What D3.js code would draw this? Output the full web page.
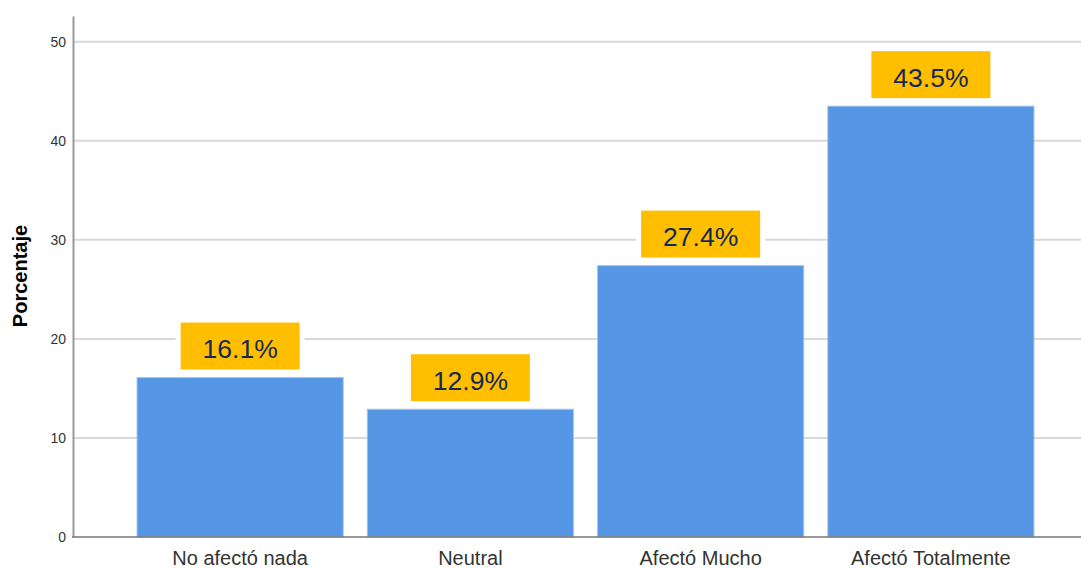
<html><head>
<meta charset="utf-8">
<title>Porcentaje por categoría</title>
<style>
  body {
    margin: 0;
    background: #ffffff;
    font-family: "Liberation Sans", Arial, sans-serif;
  }
  .grid line {
    stroke: #d9d9d9;
    stroke-width: 2px;
  }
  .bar {
    fill: #5596e5;
    stroke: #a8c7f0;
    stroke-width: 1px;
  }
</style>
<script src="https://d3js.org/d3.v7.min.js"></script>
</head>
<body>
<div id="chart"></div>
<script>
const categories = ["No afectó nada", "Neutral", "Afectó Mucho", "Afectó Totalmente"];
const percents = [16.1, 12.9, 27.4, 43.5];
const yTicks = [0, 10, 20, 30, 40, 50];

const W = 1081, H = 569;
const plotLeft = 73, plotRight = 1081, plotTop = 16, plotBottom = 537;

const svg = d3.select("#chart").append("svg")
  .attr("width", W)
  .attr("height", H);

const x = d3.scaleBand()
  .domain(categories)
  .range([125, 1046])
  .paddingInner(0.1)
  .paddingOuter(0.05);

const y = d3.scaleLinear()
  .domain([0, 52.6])
  .range([plotBottom, plotTop]);

// gridlines
svg.append("g")
  .attr("class", "grid")
  .selectAll("line")
  .data(yTicks.filter(d => d > 0))
  .join("line")
  .attr("x1", plotLeft)
  .attr("x2", plotRight)
  .attr("y1", d => y(d))
  .attr("y2", d => y(d));

// bars
svg.append("g")
  .selectAll("rect")
  .data(categories)
  .join("rect")
  .attr("class", "bar")
  .attr("x", d => x(d) + 0.5)
  .attr("width", x.bandwidth() - 1)
  .attr("y", (d, i) => y(percents[i]))
  .attr("height", (d, i) => plotBottom - y(percents[i]));

// y axis
const yAxis = svg.append("g")
  .attr("transform", `translate(${plotLeft},0)`)
  .call(d3.axisLeft(y).tickValues(yTicks).tickSize(0).tickPadding(7));
yAxis.select(".domain").attr("stroke", "#999").attr("stroke-width", 2);
yAxis.selectAll("text")
  .attr("fill", "#333")
  .style("font-size", "14px")
  .style("font-family", "Liberation Sans, Arial, sans-serif");

// x axis
const xAxis = svg.append("g")
  .attr("transform", `translate(0,${plotBottom})`)
  .call(d3.axisBottom(x).tickSize(0).tickPadding(14));
xAxis.select(".domain").remove();
xAxis.selectAll("text")
  .attr("fill", "#333")
  .style("font-size", "20px")
  .style("font-family", "Liberation Sans, Arial, sans-serif");
svg.append("line")
  .attr("x1", plotLeft - 1)
  .attr("x2", plotRight)
  .attr("y1", plotBottom)
  .attr("y2", plotBottom)
  .attr("stroke", "#777")
  .attr("stroke-width", 1.5);

// y title
svg.append("text")
  .attr("transform", "translate(27,276) rotate(-90)")
  .attr("text-anchor", "middle")
  .attr("font-weight", "bold")
  .attr("font-size", "20px")
  .attr("fill", "#000")
  .text("Porcentaje");

// value labels
const boxW = 119, boxH = 47, gap = 8, halo = 5;
const labels = svg.append("g")
  .selectAll("g")
  .data(categories)
  .join("g")
  .attr("transform", (d, i) =>
    `translate(${x(d) + x.bandwidth() / 2},${y(percents[i]) - gap - boxH / 2})`);

labels.append("rect")
  .attr("x", -boxW / 2 - halo)
  .attr("y", -boxH / 2)
  .attr("width", boxW + halo * 2)
  .attr("height", boxH)
  .attr("fill", "#ffffff");

labels.append("rect")
  .attr("x", -boxW / 2)
  .attr("y", -boxH / 2)
  .attr("width", boxW)
  .attr("height", boxH)
  .attr("fill", "#ffbf00");

labels.append("text")
  .attr("text-anchor", "middle")
  .attr("dy", "0.45em")
  .attr("font-size", "26.5px")
  .attr("fill", "#14295a")
  .text((d, i) => percents[i].toFixed(1) + "%");
</script>
</body></html>
